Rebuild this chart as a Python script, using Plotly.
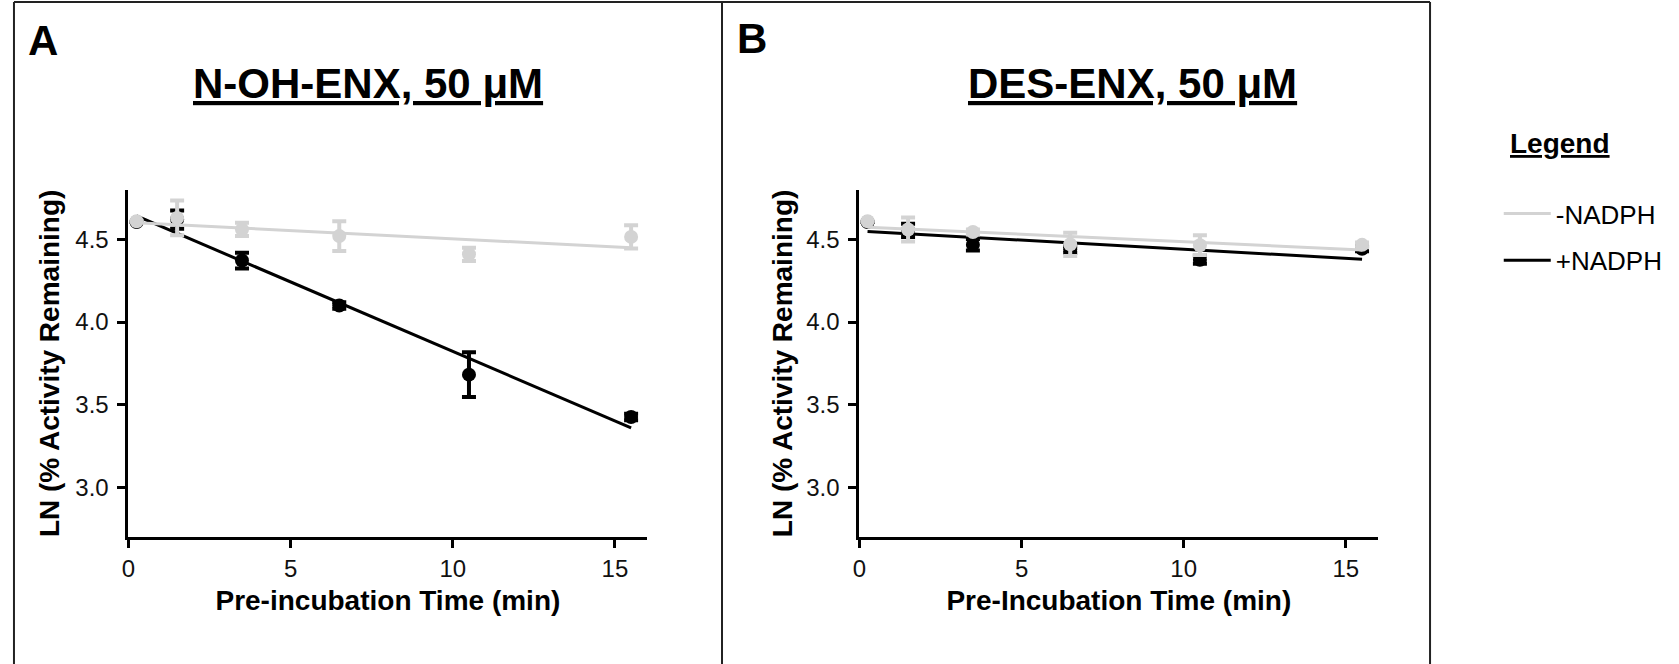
import numpy as np
import plotly.graph_objects as go

# ---- data ----
time_min = [0.25, 1.5, 3.5, 6.5, 10.5, 15.5]

a_minus = [4.61, 4.63, 4.56, 4.52, 4.41, 4.515]
a_minus_err = [0.0, 0.105, 0.04, 0.09, 0.04, 0.07]
a_plus = [4.605, 4.62, 4.372, 4.10, 3.682, 3.426]
a_plus_err = [0.0, 0.055, 0.048, 0.02, 0.135, 0.02]

b_minus = [4.61, 4.56, 4.545, 4.47, 4.465, 4.467]
b_minus_err = [0.0, 0.072, 0.015, 0.07, 0.06, 0.015]
b_plus = [4.605, 4.555, 4.468, 4.44, 4.377, 4.443]
b_plus_err = [0.0, 0.04, 0.035, 0.02, 0.025, 0.015]

x_ticks = [0, 5, 10, 15]
y_ticks = [3.0, 3.5, 4.0, 4.5]
series_names = ["-NADPH", "+NADPH"]
panel_titles = ["N-OH-ENX, 50 \u03bcM", "DES-ENX, 50 \u03bcM"]
x_titles = ["Pre-incubation Time (min)", "Pre-Incubation Time (min)"]
y_title = "LN (% Activity Remaining)"

# ---- styling ----
W, H = 1679, 664
FONT = "Liberation Sans, Arial, sans-serif"
GRAY = "#d3d3d3"
BLACK = "#000000"


def px(x):
    return x / W


def py(y):
    return 1 - y / H


fig = go.Figure()

panels = [
    dict(minus=a_minus, minus_err=a_minus_err, plus=a_plus, plus_err=a_plus_err, xa="x", ya="y"),
    dict(minus=b_minus, minus_err=b_minus_err, plus=b_plus, plus_err=b_plus_err, xa="x2", ya="y2"),
]

t = np.array(time_min)
x_fit = np.array([t.min(), t.max()])

for i, p in enumerate(panels):
    for name, vals, errs, color, rank in [
        (series_names[1], p["plus"], p["plus_err"], BLACK, 2),
        (series_names[0], p["minus"], p["minus_err"], GRAY, 1),
    ]:
        slope, intercept = np.polyfit(t, np.array(vals), 1)
        fig.add_trace(go.Scatter(
            x=x_fit, y=slope * x_fit + intercept, mode="lines",
            line=dict(color=color, width=3),
            name=name, legendgroup=name, legendrank=rank,
            showlegend=(i == 0),
            xaxis=p["xa"], yaxis=p["ya"], hoverinfo="skip",
        ))
        fig.add_trace(go.Scatter(
            x=time_min, y=vals, mode="markers",
            marker=dict(color=color, size=14),
            error_y=dict(type="data", array=errs, visible=True, color=color,
                         thickness=4, width=7),
            name=name, legendgroup=name, showlegend=False,
            xaxis=p["xa"], yaxis=p["ya"],
        ))

axis_common = dict(
    showline=True, linewidth=3, linecolor=BLACK, showgrid=False, zeroline=False,
    ticks="outside", ticklen=8, tickwidth=3, tickcolor=BLACK,
    tickfont=dict(family=FONT, size=24, color="#111"),
)
title_font = dict(family=FONT, size=28, color=BLACK, weight="bold")

y_dom = [py(537), py(189.8)]
fig.update_layout(
    xaxis=dict(domain=[px(122), px(643)], range=[0, 16], tickvals=x_ticks, anchor="y",
               title=dict(text=x_titles[0], standoff=10, font=title_font),
               **axis_common),
    yaxis=dict(domain=y_dom, range=[2.7, 4.8], tickvals=y_ticks, tickformat=".1f", anchor="x",
               ticklabelstandoff=4,
               title=dict(text=y_title, standoff=8, font=title_font),
               **axis_common),
    xaxis2=dict(domain=[px(856), px(1377)], range=[0, 16], tickvals=x_ticks, anchor="y2",
                title=dict(text=x_titles[1], standoff=10, font=title_font),
                **axis_common),
    yaxis2=dict(domain=y_dom, range=[2.7, 4.8], tickvals=y_ticks, tickformat=".1f", anchor="x2",
                ticklabelstandoff=4,
                title=dict(text=y_title, standoff=6, font=title_font),
                **axis_common),
)

annotations = [
    dict(text="<b>A</b>", x=px(36), y=py(41), font=dict(size=42)),
    dict(text="<b>B</b>", x=px(748.5), y=py(38), font=dict(size=42)),
    dict(text="<b><u>" + panel_titles[0] + "</u></b>", x=px(362.5), y=py(83), font=dict(size=42)),
    dict(text="<b><u>" + panel_titles[1] + "</u></b>", x=px(1130), y=py(83), font=dict(size=42)),
    dict(text="<b><u>Legend</u></b>", x=px(1559), y=py(143), font=dict(size=28)),
]
for a in annotations:
    a.update(xref="paper", yref="paper", showarrow=False, xanchor="center", yanchor="middle")
    a["font"].update(family=FONT, color=BLACK)

frame = dict(color="#222", width=2)
shapes = [
    dict(type="line", x0=px(7), x1=px(1429), y0=py(2), y1=py(2)),
    dict(type="line", x0=px(7), x1=px(7), y0=py(2), y1=py(700)),
    dict(type="line", x0=px(718), x1=px(718), y0=py(2), y1=py(700)),
    dict(type="line", x0=px(1429), x1=px(1429), y0=py(2), y1=py(700)),
]
for s in shapes:
    s.update(xref="paper", yref="paper", line=frame)

fig.update_layout(
    width=W, height=H, autosize=False,
    margin=dict(l=0, r=0, t=0, b=0),
    paper_bgcolor="white", plot_bgcolor="white",
    font=dict(family=FONT, color=BLACK),
    annotations=annotations, shapes=shapes,
    showlegend=True,
    legend=dict(x=px(1498), y=py(190), xanchor="left", yanchor="top",
                font=dict(family=FONT, size=26, color=BLACK),
                traceorder="grouped", tracegroupgap=10, itemwidth=47,
                bgcolor="rgba(0,0,0,0)"),
)

fig.write_html("out.html")
